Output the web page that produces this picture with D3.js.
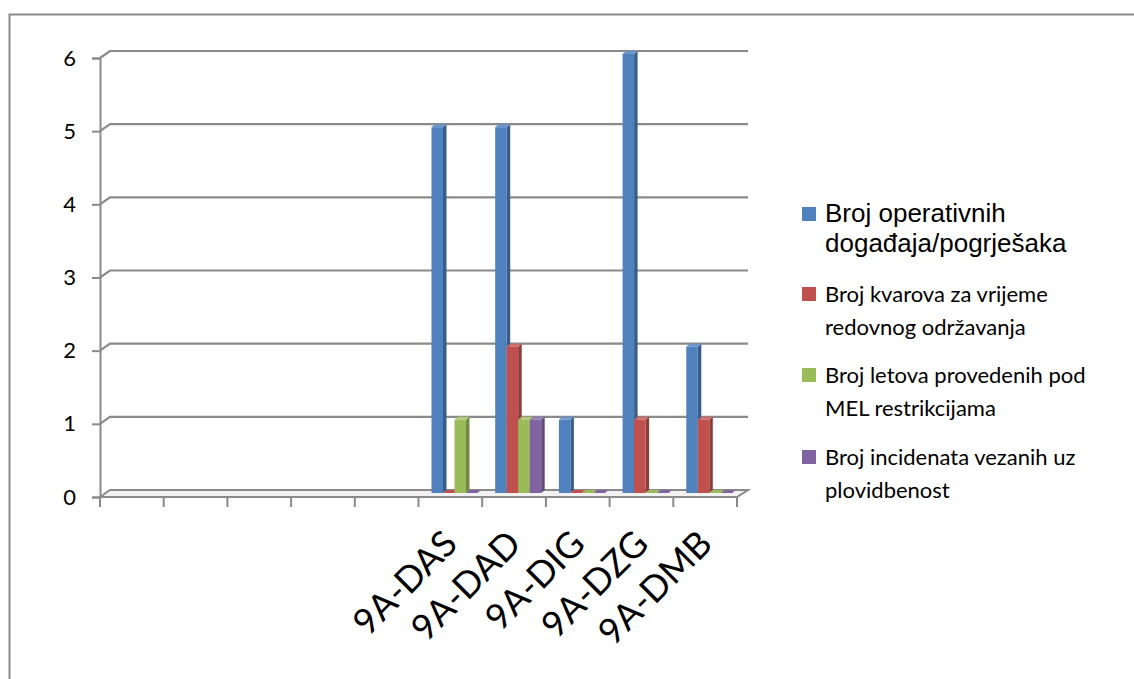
<!DOCTYPE html>
<html>
<head>
<meta charset="utf-8">
<script src="https://cdn.jsdelivr.net/npm/d3@7"></script>
<style>
  body { margin: 0; background: #fff; }
  svg { display: block; }
</style>
</head>
<body>
<div id="chart"></div>
<script>
// categories (first five slots are empty in the original sheet)
const categories = ['', '', '', '', '', '9A-DAS', '9A-DAD', '9A-DIG', '9A-DZG', '9A-DMB'];

// series values, one per category
const operativni = [0, 0, 0, 0, 0, 5, 5, 1, 6, 2];
const kvarovi    = [0, 0, 0, 0, 0, 0, 2, 0, 1, 1];
const melLetovi  = [0, 0, 0, 0, 0, 1, 1, 0, 0, 0];
const incidenti  = [0, 0, 0, 0, 0, 0, 1, 0, 0, 0];

// legend labels (split into lines)
const seriesNames = [
  ['Broj operativnih', 'događaja/pogrješaka'],
  ['Broj kvarova  za vrijeme', 'redovnog održavanja'],
  ['Broj letova provedenih pod', 'MEL restrikcijama'],
  ['Broj incidenata vezanih uz', 'plovidbenost']
];
const yTicks = [0, 1, 2, 3, 4, 5, 6];

const series = [operativni, kvarovi, melLetovi, incidenti];
const colors = [
  { front: '#4F81BD', side: '#385D8A', top: '#6A95CC' },
  { front: '#C0504D', side: '#8E3B39', top: '#CE6B68' },
  { front: '#9BBB59', side: '#728A41', top: '#ADC975' },
  { front: '#8064A2', side: '#5E4A78', top: '#957DB3' }
];

const W = 1134, H = 679;
const axisGray = '#8a8a8a';
const wallDx = 10, wallDy = -7;   // depth of the back wall
const barDx = 3.5, barDy = -3;    // depth of one bar
const barShiftY = -4;             // bars sit half way into the floor

const svg = d3.select('#chart').append('svg')
  .attr('width', W).attr('height', H);

// outer chart frame (right and bottom edges are cut off)
svg.append('path')
  .attr('d', `M9.5,${H} V14.5 H${W}`)
  .attr('fill', 'none')
  .attr('stroke', axisGray)
  .attr('stroke-width', 2);

// scales
const x = d3.scaleBand()
  .domain(d3.range(categories.length))
  .range([100, 737]);

const xSeries = d3.scaleBand()
  .domain(d3.range(series.length))
  .range([13, 13 + 11.5 * series.length]);

const y = d3.scaleLinear()
  .domain([0, 6])
  .range([497, 58]);

// gridlines on the back wall with the little diagonal joint
const grid = svg.append('g');
yTicks.filter(t => t > 0).forEach(t => {
  grid.append('path')
    .attr('d', `M100,${y(t)} l${wallDx},${wallDy} H748`)
    .attr('fill', 'none')
    .attr('stroke', axisGray)
    .attr('stroke-width', 2.2);
});

// floor
svg.append('path')
  .attr('d', `M100,${y(0)} L${100 + wallDx},${y(0) + wallDy} H748 L737,${y(0)} Z`)
  .attr('fill', '#f2f2f2')
  .attr('stroke', axisGray)
  .attr('stroke-width', 2);

// y axis
const yAxis = svg.append('g')
  .attr('transform', 'translate(100,0)')
  .call(d3.axisLeft(y).tickValues(yTicks).tickFormat(d3.format('d'))
    .tickSize(8).tickSizeOuter(8).tickPadding(16));
yAxis.selectAll('path, line').attr('stroke', axisGray).attr('stroke-width', 2);
yAxis.selectAll('text')
  .attr('fill', '#000')
  .style('font-family', 'Lato, sans-serif')
  .style('font-size', '22px');

// x tick marks at category boundaries
const xBounds = d3.range(categories.length + 1).map(i => 100 + i * x.step());
svg.append('g').selectAll('line')
  .data(xBounds)
  .enter().append('line')
  .attr('x1', d => d).attr('x2', d => d)
  .attr('y1', y(0)).attr('y2', y(0) + 10)
  .attr('stroke', axisGray)
  .attr('stroke-width', 2);

// 3d columns
const bars = svg.append('g');
categories.forEach((c, ci) => {
  if (!c) return;
  series.forEach((vals, si) => {
    const v = vals[ci];
    const x0 = x(ci) + xSeries(si);
    const w = xSeries.bandwidth();
    const yb = y(0) + barShiftY;
    const yt = y(v) + barShiftY;
    const col = colors[si];
    if (v > 0) {
      // side face
      bars.append('path')
        .attr('d', `M${x0 + w},${yb} L${x0 + w + barDx},${yb + barDy} L${x0 + w + barDx},${yt + barDy} L${x0 + w},${yt} Z`)
        .attr('fill', col.side);
      // front face
      bars.append('rect')
        .attr('x', x0).attr('y', yt)
        .attr('width', w).attr('height', yb - yt)
        .attr('fill', col.front);
    }
    // top face
    bars.append('path')
      .attr('d', `M${x0},${yt} L${x0 + barDx},${yt + barDy} L${x0 + w + barDx},${yt + barDy} L${x0 + w},${yt} Z`)
      .attr('fill', v > 0 ? col.top : col.front);
  });
});

// rotated category labels
svg.append('g').selectAll('text')
  .data(categories.map((c, i) => ({ c, i })).filter(d => d.c))
  .enter().append('text')
  .attr('transform', d => `translate(${x(d.i) + x.bandwidth() / 2 + 9},546) rotate(-45)`)
  .attr('text-anchor', 'end')
  .style('font-family', 'Lato, sans-serif')
  .style('font-size', '36px')
  .text(d => d.c);

// legend
const legendY = [214, 294, 375, 457];
const legend = svg.append('g');
seriesNames.forEach((lines, i) => {
  legend.append('rect')
    .attr('x', 802).attr('y', legendY[i] - 7)
    .attr('width', 14).attr('height', 14)
    .attr('fill', colors[i].front);
  const first = i === 0;
  const t = legend.append('text')
    .attr('x', 825)
    .attr('y', legendY[i] + 8)
    .style('font-family', first ? '"Liberation Sans", Arial, sans-serif' : 'Lato, sans-serif')
    .style('font-size', first ? '26px' : '22px');
  lines.forEach((ln, k) => {
    t.append('tspan')
      .attr('x', 825)
      .attr('dy', k === 0 ? 0 : (first ? 30 : 33))
      .text(ln);
  });
});
</script>
</body>
</html>
